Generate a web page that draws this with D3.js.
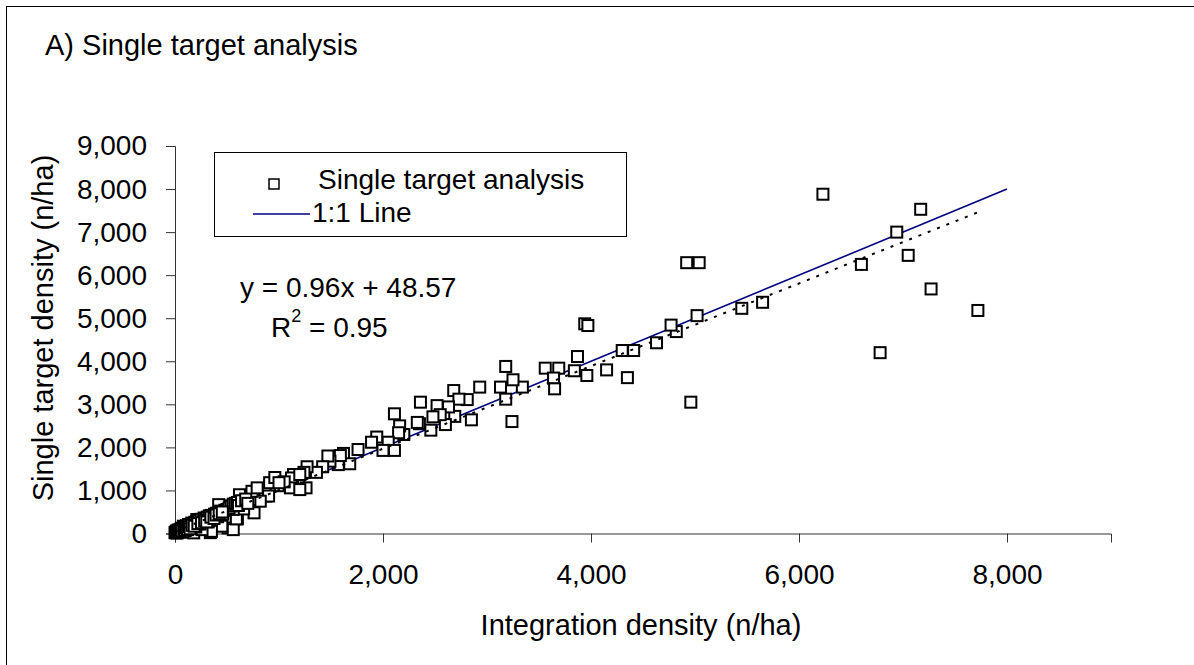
<!DOCTYPE html>
<html>
<head>
<meta charset="utf-8">
<script src="https://cdn.jsdelivr.net/npm/d3@7"></script>
<style>
  html, body { margin: 0; padding: 0; background: #fff; }
  svg { display: block; }
  text { font-family: "Liberation Sans", Arial, sans-serif; fill: #000; }
</style>
</head>
<body>
<svg id="chart" width="1194" height="665"></svg>
<script>
// ---- Data (Integration density vs Single target density, n/ha) ----
const integration = [
  6230, 7170, 6940, 7050, 6600, 7270, 7720, 6780, 4920, 5040, 5650, 5450, 5020, 4820, 4770, 4630, 4960,
  3940, 3970, 4300, 4410, 4350, 4150, 3960, 3870, 3840, 3690, 3560, 3640, 3650, 3340, 3250, 3180, 3130, 3180, 3240,
  2930, 2810, 2850, 2680, 2730, 2690, 2600, 2630, 2520, 2550, 2480, 2460, 2360, 2350, 2200, 2160, 2110, 2150,
  1940, 1890, 2050, 2000, 2110, 1760, 1620, 2330,
  1680, 1570, 1590, 1490, 1470, 1420, 1360, 1270, 1240, 1190, 1260, 1130, 1140, 990, 910, 820, 870, 790, 750, 760,
  670, 630, 600, 580, 530, 510, 560, 470, 430, 370, 450, 340, 300, 340, 260, 210, 180, 140, 80, 50, 0,
  350, 260, 590, 660, 560, 500, 420, 390, 300, 865, 900, 910, 1120, 1110, 1200, 1200, 820, 720, 660, 620, 740, 790,
  960, 1050, 1000,
  10, 20, 30, 40, 60, 70, 90, 100, 110, 130, 150, 160, 170, 190, 200, 210, 230, 240, 250, 270, 280, 290, 310, 320,
  330, 350, 360, 380, 400, 410, 430, 440, 460, 480, 500, 520, 540, 560, 580, 600, 610, 640, 680, 700,
  5, 15, 25, 35, 45, 55, 65, 85, 95, 105, 120, 135, 145, 165, 185, 220, 255, 285, 305, 345, 375, 395, 425, 455
];
const singleTarget = [
  7880, 7530, 7000, 6460, 6250, 5680, 5180, 4200, 6290, 6290, 5370, 5230, 5060, 4690, 4840, 4430, 3050,
  4870, 4830, 4250, 4250, 3620, 3800, 3670, 4110, 3780, 3840, 3840, 3610, 3360, 3400, 3570, 3880, 3400, 3120, 2600,
  3400, 3110, 2640, 3320, 3120, 2720, 2530, 2940, 2970, 2760, 2710, 2400, 3050, 2550, 2300, 2500, 2780, 2340,
  2240, 2120, 2120, 1930, 1930, 1950, 1860, 2580,
  1620, 1600, 1810, 1680, 1800, 1550, 1420, 1550, 1420, 1250, 1060, 1110, 1370, 1110, 1100, 1020, 870, 900, 790, 480,
  870, 750, 340, 600, 630, 130, 90, 600, 480, 400, 170, 325, 210, 20, 170, 325, 15, 170, 170, 90, 20,
  50, 90, 340, 570, 560, 630, 670, 400, 320, 940, 870, 1180, 1290, 1060, 1020, 1370, 750, 790, 750, 900, 980, 1060,
  1300, 1200, 1180,
  40, 10, 80, 50, 120, 30, 140, 80, 180, 210, 120, 240, 200, 260, 150, 280, 300, 220, 330, 280, 360, 330, 380, 270,
  410, 420, 360, 450, 470, 390, 500, 520, 450, 540, 560, 590, 640, 680, 700, 720, 650, 760, 800, 700,
  20, 60, 30, 70, 40, 90, 60, 100, 70, 130, 90, 160, 110, 190, 170, 230, 250, 300, 270, 380, 350, 430, 460, 500
];
const xTicks = [0, 2000, 4000, 6000, 8000];
const yTicks = [0, 1000, 2000, 3000, 4000, 5000, 6000, 7000, 8000, 9000];
const oneToOne = [[0, 0], [8000, 8000]];
const trendSlope = 0.96, trendIntercept = 48.57;
const trendRange = [0, 7720];
const titleText = "A) Single target analysis";
const xTitle = "Integration density (n/ha)";
const yTitle = "Single target density (n/ha)";
const legendLabels = ["Single target analysis", "1:1 Line"];

// ---- Drawing ----
const svg = d3.select("#chart");
const FONT = 28;

// outer frame (right/bottom edges fall outside the picture)
svg.append("rect").attr("x", 6.5).attr("y", 6.5).attr("width", 1300).attr("height", 800)
  .attr("fill", "none").attr("stroke", "#000").attr("stroke-width", 1);

const x = d3.scaleLinear().domain([0, 9000]).range([175, 1111]);
const y = d3.scaleLinear().domain([0, 9000]).range([533.5, 146]);

svg.append("text").attr("x", 45).attr("y", 55).attr("font-size", 29).text(titleText);

const fmt = d3.format(",");

// x axis
const gx = svg.append("g").attr("transform", `translate(0,${y(0)})`)
  .call(d3.axisBottom(x).tickValues(xTicks).tickSize(9).tickPadding(22).tickFormat(fmt));
gx.select(".domain").attr("stroke", "#333");
gx.selectAll(".tick line").attr("stroke", "#333");
gx.selectAll(".tick text").attr("font-size", FONT).attr("font-family", "Liberation Sans, Arial, sans-serif").attr("fill", "#000");

// y axis
const gy = svg.append("g").attr("transform", `translate(${x(0)},0)`)
  .call(d3.axisLeft(y).tickValues(yTicks).tickSize(9).tickPadding(19).tickFormat(fmt));
gy.select(".domain").attr("stroke", "#333");
gy.selectAll(".tick line").attr("stroke", "#333");
gy.selectAll(".tick text").attr("font-size", FONT).attr("font-family", "Liberation Sans, Arial, sans-serif").attr("fill", "#000");

// axis titles
svg.append("text").attr("x", 641).attr("y", 635).attr("text-anchor", "middle")
  .attr("font-size", 29).text(xTitle);
svg.append("text").attr("transform", "translate(53,328) rotate(-90)").attr("text-anchor", "middle")
  .attr("font-size", 29).text(yTitle);

// 1:1 line (under points)
const line = d3.line().x(d => x(d[0])).y(d => y(d[1]));
svg.append("path").datum(oneToOne).attr("d", line)
  .attr("fill", "none").attr("stroke", "#000080").attr("stroke-width", 1.6);

// points
const pts = integration.map((v, i) => [v, singleTarget[i]]);
const S = 11;
svg.append("g").selectAll("rect").data(pts).join("rect")
  .attr("x", d => x(d[0]) - S / 2).attr("y", d => y(d[1]) - S / 2)
  .attr("width", S).attr("height", S)
  .attr("fill", "#fff").attr("stroke", "#000").attr("stroke-width", 2);

// linear trendline (dotted, on top)
const trend = trendRange.map(v => [v, trendSlope * v + trendIntercept]);
svg.append("path").datum(trend).attr("d", line)
  .attr("fill", "none").attr("stroke", "#000").attr("stroke-width", 2)
  .attr("stroke-dasharray", "3,7");

// legend
const lg = svg.append("g");
lg.append("rect").attr("x", 214.5).attr("y", 152.5).attr("width", 412).attr("height", 84)
  .attr("fill", "#fff").attr("stroke", "#000").attr("stroke-width", 1);
lg.append("rect").attr("x", 269).attr("y", 179).attr("width", 10).attr("height", 10)
  .attr("fill", "#fff").attr("stroke", "#000").attr("stroke-width", 1.5);
lg.append("text").attr("x", 318).attr("y", 189).attr("font-size", FONT).text(legendLabels[0]);
lg.append("line").attr("x1", 253).attr("x2", 310).attr("y1", 214).attr("y2", 214)
  .attr("stroke", "#000080").attr("stroke-width", 1.6);
lg.append("text").attr("x", 312).attr("y", 222).attr("font-size", FONT).text(legendLabels[1]);

// equation
svg.append("text").attr("x", 240).attr("y", 297).attr("font-size", FONT)
  .text(`y = ${trendSlope.toFixed(2)}x + ${trendIntercept.toFixed(2)}`);
const r2 = svg.append("text").attr("x", 271).attr("y", 337).attr("font-size", FONT);
r2.append("tspan").text("R");
r2.append("tspan").attr("font-size", 18).attr("dy", -15).text("2");
r2.append("tspan").attr("dy", 15).text(" = 0.95");
</script>
</body>
</html>
